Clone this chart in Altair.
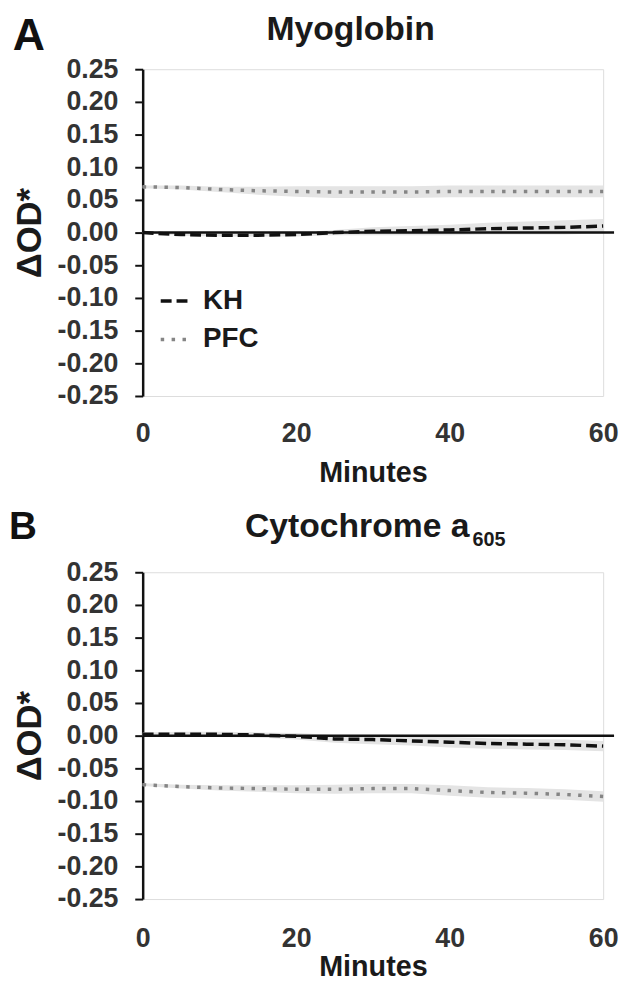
import altair as alt
import pandas as pd

# ---------------- data ----------------
minutes = [0, 5, 10, 15, 20, 25, 30, 35, 40, 45, 50, 55, 60]

# Panel A: Myoglobin
a_kh = [0.000, -0.003, -0.004, -0.004, -0.003, 0.000, 0.002, 0.003, 0.004, 0.006, 0.007, 0.008, 0.010]
a_kh_err = [0.001, 0.002, 0.002, 0.002, 0.003, 0.004, 0.006, 0.007, 0.008, 0.009, 0.010, 0.011, 0.011]
a_pfc = [0.070, 0.069, 0.066, 0.064, 0.063, 0.062, 0.062, 0.062, 0.063, 0.063, 0.063, 0.063, 0.063]
a_pfc_err = [0.002, 0.003, 0.004, 0.006, 0.008, 0.009, 0.009, 0.009, 0.009, 0.009, 0.009, 0.009, 0.009]

# Panel B: Cytochrome a605
b_kh = [0.002, 0.002, 0.002, 0.001, -0.001, -0.005, -0.006, -0.008, -0.010, -0.012, -0.013, -0.014, -0.016]
b_kh_err = [0.003, 0.004, 0.004, 0.004, 0.005, 0.006, 0.007, 0.007, 0.008, 0.008, 0.008, 0.008, 0.008]
b_pfc = [-0.075, -0.078, -0.080, -0.081, -0.082, -0.082, -0.081, -0.081, -0.084, -0.087, -0.088, -0.090, -0.093]
b_pfc_err = [0.002, 0.003, 0.004, 0.005, 0.006, 0.007, 0.007, 0.007, 0.008, 0.008, 0.008, 0.008, 0.008]

series_names = ["KH", "PFC"]
x_ticks = [0, 20, 40, 60]
y_ticks = [-0.25, -0.20, -0.15, -0.10, -0.05, 0.0, 0.05, 0.10, 0.15, 0.20, 0.25]

# ---------------- styling ----------------
FONT = "Liberation Sans"
W, H = 465, 330

cscale = alt.Scale(domain=series_names, range=["#111111", "#858585"])
dscale = alt.Scale(domain=series_names, range=[[11, 5], [3.5, 7.5]])
xscale = alt.Scale(domain=[0, 60], nice=False)
yscale = alt.Scale(domain=[-0.25, 0.25], nice=False)


def make_panel(kh, kh_err, pfc, pfc_err, letter, letter_size, letter_x, letter_y,
               title, title_x, title_align, title_y, sub, sub_x, sub_y,
               show_legend, lab_pad, title_pad):
    rows = []
    for name, vals, errs in [("KH", kh, kh_err), ("PFC", pfc, pfc_err)]:
        for t, v, e in zip(minutes, vals, errs):
            rows.append({"t": t, "v": v, "lo": v - e, "hi": v + e, "series": name})
    df = pd.DataFrame(rows)

    xaxis = alt.Axis(values=x_ticks, title="Minutes", domain=False, ticks=False, grid=False,
                     labelFont=FONT, labelFontSize=27, labelFontWeight="bold", labelColor="#333333",
                     labelPadding=lab_pad, labelFlush=False,
                     titleFont=FONT, titleFontSize=29, titleFontWeight="bold", titleColor="#1a1a1a",
                     titlePadding=title_pad)
    yaxis = alt.Axis(values=y_ticks, title="ΔOD*", grid=False,
                     labelExpr="(datum.value < -0.0001 ? '-' : '') + format(abs(datum.value), '.2f')",
                     labelFont=FONT, labelFontSize=27, labelFontWeight="bold", labelColor="#333333",
                     labelPadding=17, tickSize=8, tickWidth=2, tickColor="#111111",
                     domainWidth=2.5, domainColor="#111111",
                     titleFont=FONT, titleFontSize=35, titleFontWeight="bold", titleColor="#1a1a1a",
                     titlePadding=10)

    band = alt.Chart(df).mark_area(color="#e4e4e4", opacity=1).encode(
        x=alt.X("t:Q", scale=xscale, axis=xaxis),
        y=alt.Y("lo:Q", scale=yscale, axis=yaxis),
        y2="hi:Q",
        detail="series:N",
    )
    zero = alt.Chart(pd.DataFrame({"z": [0.0]})).mark_rule(color="#111111", strokeWidth=2.5).encode(
        y=alt.Y("z:Q", scale=yscale, axis=yaxis),
        x=alt.value(0),
        x2=alt.value(W + 11),
    )
    if show_legend:
        leg = alt.Legend(title=None, orient="none", legendX=16, legendY=218,
                         symbolType="stroke", symbolSize=760, symbolStrokeWidth=3.5,
                         labelFont=FONT, labelFontSize=28, labelFontWeight="bold",
                         labelColor="#1a1a1a", labelOffset=13, rowPadding=9, padding=0)
    else:
        leg = None
    lines = alt.Chart(df).mark_line(strokeWidth=3.5).encode(
        x=alt.X("t:Q", scale=xscale, axis=xaxis),
        y=alt.Y("v:Q", scale=yscale, axis=yaxis),
        color=alt.Color("series:N", scale=cscale, legend=leg),
        strokeDash=alt.StrokeDash("series:N", scale=dscale, legend=leg),
    )

    letter_mark = alt.Chart(pd.DataFrame({"s": [letter]})).mark_text(
        font=FONT, fontSize=letter_size, fontWeight="bold", align="center", baseline="top", color="#111111"
    ).encode(text="s:N", x=alt.value(letter_x), y=alt.value(letter_y))
    title_mark = alt.Chart(pd.DataFrame({"s": [title]})).mark_text(
        font=FONT, fontSize=34, fontWeight="bold", align=title_align, baseline="top", color="#1a1a1a"
    ).encode(text="s:N", x=alt.value(title_x), y=alt.value(title_y))
    layers = [band, zero, lines, letter_mark, title_mark]
    if sub:
        sub_mark = alt.Chart(pd.DataFrame({"s": [sub]})).mark_text(
            font=FONT, fontSize=20, fontWeight="bold", align="left", baseline="top", color="#1a1a1a"
        ).encode(text="s:N", x=alt.value(sub_x), y=alt.value(sub_y))
        layers.append(sub_mark)
    return alt.layer(*layers).properties(width=W, height=H)


panel_a = make_panel(a_kh, a_kh_err, a_pfc, a_pfc_err, "A", 45, -115, -55,
                     "Myoglobin", 210, "center", -56, None, 0, 0,
                     True, 25, 12)
panel_b = make_panel(b_kh, b_kh_err, b_pfc, b_pfc_err, "B", 39, -121, -65,
                     "Cytochrome a", 330, "right", -63, "605", 333, -43,
                     False, 27, 1)

chart = alt.vconcat(
    panel_a, panel_b, spacing=19, padding=0,
).resolve_scale(
    color="independent", strokeDash="independent"
).resolve_legend(
    color="independent", strokeDash="independent"
).configure_view(stroke=None).configure(background="white")

chart.save("out.html", embed_options={"renderer": "svg", "actions": False})
